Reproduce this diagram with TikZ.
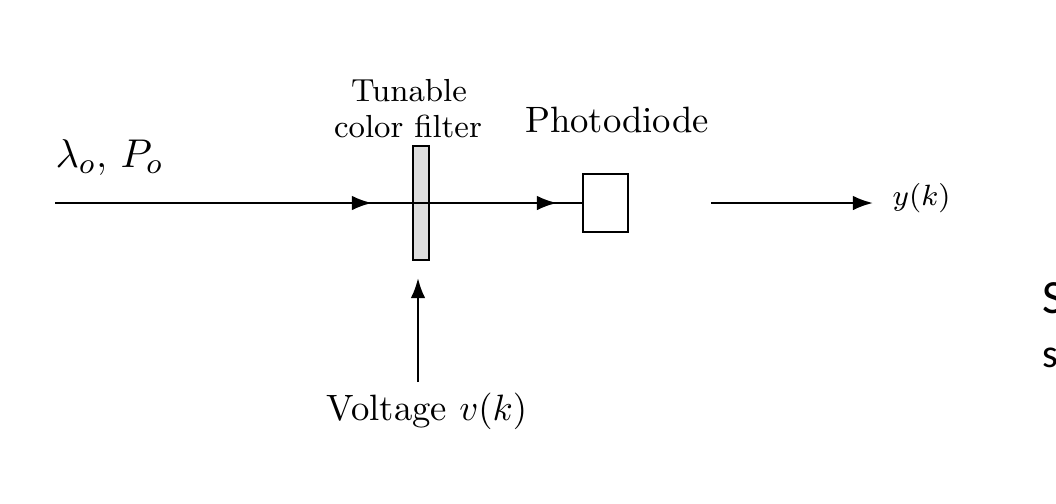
\documentclass[tikz,border=0pt]{standalone}
\usepackage{fontspec}
\newfontfamily\cutsans{Carlito}
\usetikzlibrary{arrows.meta}
\begin{document}
\begin{tikzpicture}[x=0.2727pt,y=-0.2727pt,
  wire/.style={line width=0.65pt},
  arr/.style={wire,-{Latex[length=5.5pt,width=4pt]}},
  filterbox/.style={draw,line width=0.55pt,fill=black!13,minimum width=4.4pt,minimum height=31pt,inner sep=0pt},
  pdbox/.style={draw,line width=0.55pt,fill=white,minimum width=12.3pt,minimum height=15.8pt,inner sep=0pt},
  lbl/.style={inner sep=0pt}]
\useasboundingbox (0,0) rectangle (1056,503);
% components
\node[filterbox] (filter) at (421,203) {};
\node[pdbox] (pd) at (605.5,203) {};
% labels
\node[lbl,anchor=base west,font=\fontsize{11.2}{14}\selectfont] (lam) at (55,167) {$\lambda_o$, $P_o$};
\node[lbl,anchor=base,font=\fontsize{8.7}{9.8}\selectfont] (tun) at (409,101) {Tunable};
\node[lbl,anchor=base,font=\fontsize{8.7}{9.8}\selectfont] (col) at (408,137) {color filter};
\node[lbl,anchor=base] (pdl) at (617,132) {Photodiode};
\node[lbl,anchor=base west,font=\fontsize{8.1}{10}\selectfont] (yk) at (892,205) {$y(k)$};
\node[lbl,anchor=base] (volt) at (427,420) {Voltage $v(k)$};
% connectors
\coordinate (in) at (55,203);
\coordinate (m1) at (372,203);
\coordinate (m2) at (557,203);
\coordinate (o1) at (711,203);
\coordinate (o2) at (873,203);
\coordinate (vb) at (418,382);
\coordinate (vt) at (418,278);
\draw[wire] (in) -- (pd.west);
\draw[arr] (in) -- (m1);
\draw[arr] (filter.center) -- (m2);
\draw[arr] (o1) -- (o2);
\draw[arr] (vb) -- (vt);
% cut-off slide text at the right edge
\begin{scope}
\clip (0,0) rectangle (1056,503);
\node[lbl,anchor=base west,font=\cutsans\fontsize{13}{15}\selectfont] (capS) at (1042,313) {S};
\node[lbl,anchor=base west,font=\cutsans\fontsize{11}{13}\selectfont] (smalls) at (1042,367) {s};
\end{scope}
\end{tikzpicture}
\end{document}
